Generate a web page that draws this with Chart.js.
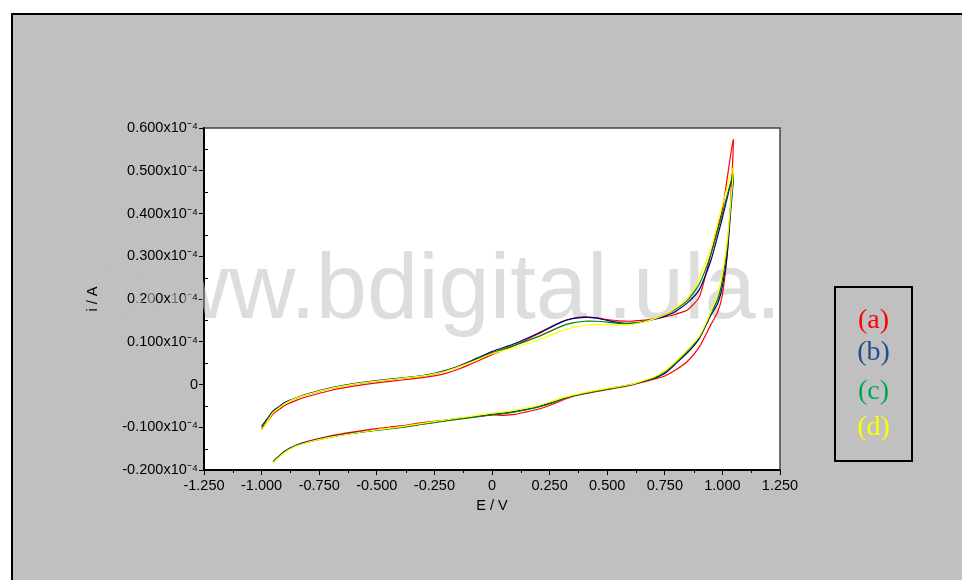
<!DOCTYPE html>
<html>
<head>
<meta charset="utf-8">
<script src="https://cdn.jsdelivr.net/npm/chart.js@4.4.1/dist/chart.umd.min.js"></script>
<style>
    html, body { margin: 0; padding: 0; background: #fff; overflow: hidden; }
    #page { position: absolute; left: 11px; top: 13px; width: 1000px; height: 620px;
        background: #c0c0c0; border-top: 2px solid #000; border-left: 2px solid #000; }
    #chart { position: absolute; left: 0; top: 0; }
    #legend { position: absolute; left: 834px; top: 286px; width: 75px; height: 172px;
        border: 2px solid #000; font-family: "Liberation Serif", "Times New Roman", serif; font-size: 28px; }
    #legend div { position: absolute; left: 0; width: 100%; text-align: center; line-height: 30px; }
</style>
</head>
<body>
<div id="page"></div>
<canvas id="chart" width="962" height="580"></canvas>
<div id="legend">
    <div style="top:16px;color:#ff0000">(a)</div>
    <div style="top:48px;color:#1f4e8c">(b)</div>
    <div style="top:87px;color:#00a550">(c)</div>
    <div style="top:123px;color:#ffff00">(d)</div>
</div>
<script>
// potential grid (V): forward scan and reverse scan
const upE = [-1.0, -0.97, -0.95, -0.92, -0.9, -0.85, -0.8, -0.7, -0.6, -0.5, -0.4, -0.3, -0.25, -0.2, -0.15, -0.1, 0,
    0.1, 0.2, 0.3, 0.35, 0.4, 0.45, 0.5, 0.55, 0.6, 0.65, 0.7, 0.75, 0.8, 0.85, 0.9, 0.95, 1.0, 1.047];
const downE = [1.035, 1.02, 1.0, 0.98, 0.95, 0.9, 0.85, 0.8, 0.75, 0.7, 0.65, 0.6, 0.5, 0.4, 0.35, 0.3,
    0.25, 0.2, 0.15, 0.1, 0.05, 0, -0.1, -0.2, -0.3, -0.4, -0.5, -0.6, -0.7, -0.8, -0.85, -0.9, -0.95];

// current, in units of 1e-4 A
const aUp = [-0.105, -0.083, -0.069, -0.057, -0.049, -0.037, -0.028, -0.014, -0.004, 0.004, 0.010, 0.016, 0.020, 0.026, 0.035, 0.046, 0.070,
    0.092, 0.118, 0.146, 0.155, 0.158, 0.156, 0.152, 0.149, 0.148, 0.150, 0.153, 0.158, 0.165, 0.175, 0.205, 0.305, 0.41, 0.573];
const bUp = [-0.098, -0.076, -0.062, -0.050, -0.042, -0.031, -0.022, -0.008, 0.002, 0.009, 0.015, 0.021, 0.026, 0.033, 0.042, 0.053, 0.077,
    0.096, 0.120, 0.146, 0.154, 0.157, 0.156, 0.150, 0.145, 0.143, 0.146, 0.152, 0.160, 0.172, 0.192, 0.222, 0.29, 0.39, 0.490];
const cUp = [-0.100, -0.078, -0.064, -0.052, -0.044, -0.032, -0.023, -0.009, 0.001, 0.008, 0.014, 0.020, 0.025, 0.032, 0.041, 0.052, 0.074,
    0.092, 0.112, 0.136, 0.144, 0.148, 0.148, 0.146, 0.143, 0.143, 0.146, 0.153, 0.163, 0.177, 0.198, 0.235, 0.305, 0.40, 0.492];
const dUp = [-0.108, -0.082, -0.066, -0.053, -0.045, -0.032, -0.023, -0.009, 0.001, 0.008, 0.014, 0.020, 0.025, 0.031, 0.040, 0.050, 0.072,
    0.087, 0.104, 0.125, 0.133, 0.138, 0.140, 0.140, 0.139, 0.140, 0.145, 0.153, 0.163, 0.180, 0.203, 0.25, 0.32, 0.42, 0.508];

const aDown = [0.42, 0.30, 0.21, 0.17, 0.14, 0.088, 0.055, 0.035, 0.020, 0.012, 0.005, -0.002, -0.012, -0.022, -0.028, -0.038,
    -0.049, -0.058, -0.064, -0.070, -0.072, -0.071, -0.077, -0.083, -0.089, -0.097, -0.103, -0.111, -0.120, -0.133, -0.142, -0.157, -0.182];
const bDown = [0.40, 0.30, 0.23, 0.19, 0.162, 0.108, 0.075, 0.050, 0.026, 0.014, 0.006, -0.001, -0.010, -0.021, -0.027, -0.035,
    -0.044, -0.052, -0.058, -0.063, -0.067, -0.070, -0.077, -0.084, -0.092, -0.100, -0.106, -0.113, -0.122, -0.134, -0.142, -0.156, -0.180];
const cDown = [0.41, 0.32, 0.245, 0.20, 0.166, 0.111, 0.079, 0.053, 0.029, 0.015, 0.007, -0.001, -0.011, -0.021, -0.027, -0.035,
    -0.045, -0.053, -0.059, -0.064, -0.068, -0.071, -0.078, -0.085, -0.093, -0.101, -0.107, -0.114, -0.123, -0.135, -0.143, -0.157, -0.181];
const dDown = [0.42, 0.33, 0.26, 0.215, 0.17, 0.113, 0.082, 0.055, 0.032, 0.017, 0.008, 0.000, -0.009, -0.019, -0.025, -0.032,
    -0.041, -0.049, -0.055, -0.060, -0.064, -0.067, -0.075, -0.083, -0.091, -0.099, -0.106, -0.114, -0.123, -0.135, -0.144, -0.159, -0.183];

const xTicks = [-1.25, -1.0, -0.75, -0.5, -0.25, 0, 0.25, 0.5, 0.75, 1.0, 1.25];
const yTicks = [-0.2, -0.1, 0, 0.1, 0.2, 0.3, 0.4, 0.5, 0.6];

const FONT = '"Liberation Sans", Arial, sans-serif';

function loop(up, down) {
    return upE.map((e, i) => ({ x: e, y: up[i] }))
        .concat(downE.map((e, i) => ({ x: e, y: down[i] })));
}

function fmt(v, suffix) {
    if (Math.abs(v) < 1e-9) { return "0"; }
    return v.toFixed(3) + suffix;
}

const framePlugin = {
    id: "frame",
    beforeDraw(chart) {
        const { ctx, chartArea: a } = chart;
        ctx.save();
        ctx.fillStyle = "#fff";
        ctx.fillRect(a.left, a.top, a.right - a.left, a.bottom - a.top);
        ctx.restore();
    },
    beforeDatasetsDraw(chart) {
        const { ctx, chartArea: a, scales } = chart;
        ctx.save();
        // minor ticks
        ctx.strokeStyle = "#000";
        ctx.lineWidth = 1;
        ctx.beginPath();
        for (let i = 0; i < xTicks.length - 1; i++) {
            const x = Math.round(scales.x.getPixelForValue((xTicks[i] + xTicks[i + 1]) / 2)) + 0.5;
            ctx.moveTo(x, a.bottom); ctx.lineTo(x, a.bottom + 3);
        }
        for (let i = 0; i < yTicks.length - 1; i++) {
            const y = Math.round(scales.y.getPixelForValue((yTicks[i] + yTicks[i + 1]) / 2)) + 0.5;
            ctx.moveTo(a.left, y); ctx.lineTo(a.left + 4, y);
        }
        ctx.stroke();
        // top / right frame
        ctx.strokeStyle = "#444";
        ctx.lineWidth = 1.5;
        ctx.beginPath();
        ctx.moveTo(a.left, a.top); ctx.lineTo(a.right, a.top); ctx.lineTo(a.right, a.bottom);
        ctx.stroke();
        // watermark
        ctx.font = "92px " + FONT;
        ctx.fillStyle = "rgba(194,194,194,0.556)";
        ctx.textBaseline = "alphabetic";
        ctx.fillText("www.bdigital.ula.ve", 96, 318);
        ctx.restore();
    },
};

const series = [
    { label: "(a)", up: aUp, down: aDown, color: "#ff0000", order: 3 },
    { label: "(b)", up: bUp, down: bDown, color: "#000080", order: 2 },
    { label: "(c)", up: cUp, down: cDown, color: "#008000", order: 1 },
    { label: "(d)", up: dUp, down: dDown, color: "#ffff00", order: 0 },
];

new Chart(document.getElementById("chart"), {
    type: "scatter",
    data: {
        datasets: series.map(s => ({
            label: s.label,
            data: loop(s.up, s.down),
            showLine: true,
            borderColor: s.color,
            backgroundColor: s.color,
            borderWidth: 1.2,
            pointRadius: 0,
            tension: 0.2,
            order: s.order,
        })),
    },
    options: {
        responsive: false,
        animation: false,
        layout: { padding: { left: 84, top: 128, right: 182, bottom: 65 } },
        plugins: { legend: { display: false }, tooltip: { enabled: false } },
        scales: {
            x: {
                type: "linear", min: -1.25, max: 1.25,
                afterBuildTicks: s => { s.ticks = xTicks.map(v => ({ value: v })); },
                afterFit: s => { s.height = 45; },
                border: { color: "#000", width: 2 },
                grid: { drawOnChartArea: false, color: "#000", tickLength: 5 },
                ticks: { color: "#000", font: { family: FONT, size: 14.5 }, padding: 2,
                    maxRotation: 0, autoSkip: false, callback: v => fmt(v, "") },
                title: { display: true, text: "E / V", color: "#000",
                    font: { family: FONT, size: 14.5 }, padding: { top: 0, bottom: 0 } },
            },
            y: {
                min: -0.2, max: 0.6,
                afterBuildTicks: s => { s.ticks = yTicks.map(v => ({ value: v })); },
                afterFit: s => { s.width = 120; },
                border: { color: "#000", width: 2 },
                grid: { drawOnChartArea: false, color: "#000", tickLength: 5 },
                ticks: { color: "#000", font: { family: FONT, size: 14.5 }, padding: 1,
                    autoSkip: false, callback: v => fmt(v, "x10\u207B\u2074") },
                title: { display: true, text: "i / A", color: "#000",
                    font: { family: FONT, size: 14.5 }, padding: { top: 0, bottom: 0 } },
            },
        },
    },
    plugins: [framePlugin],
});
</script>
</body>
</html>
